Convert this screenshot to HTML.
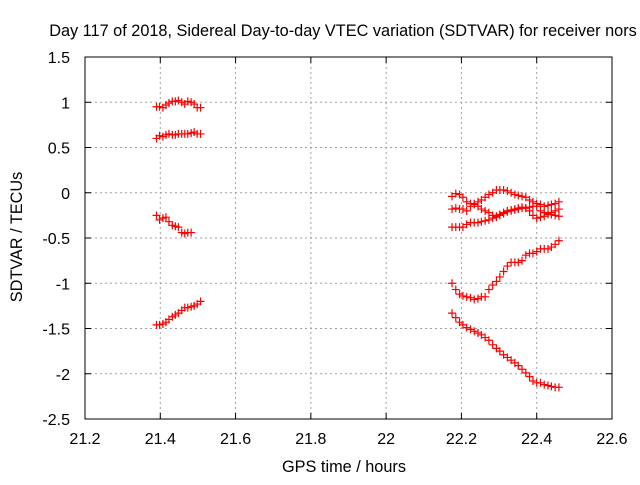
<!DOCTYPE html>
<html><head><meta charset="utf-8"><style>
body{margin:0;background:#fff;width:640px;height:480px;overflow:hidden}
svg text{font-family:"Liberation Sans",sans-serif;font-size:16px;fill:#000}
</style></head><body>
<svg id="c" width="640" height="480" xmlns="http://www.w3.org/2000/svg">
<text x="343" y="36" text-anchor="middle" style="font-size:16.3px">Day 117 of 2018, Sidereal Day-to-day VTEC variation (SDTVAR) for receiver nors</text>
<text x="344" y="472" text-anchor="middle" style="font-size:16.3px">GPS time / hours</text>
<text transform="translate(22,237) rotate(-90)" text-anchor="middle" style="font-size:16.3px">SDTVAR / TECUs</text>
<g id="grid"></g><g id="axes"></g><g id="marks"></g>
</svg>
<script>
const xTicks=[21.2,21.4,21.6,21.8,22,22.2,22.4,22.6];
const xTickLabels=["21.2","21.4","21.6","21.8","22","22.2","22.4","22.6"];
const yTicks=[1.5,1,0.5,0,-0.5,-1,-1.5,-2,-2.5];
const yTickLabels=["1.5","1","0.5","0","-0.5","-1","-1.5","-2","-2.5"];
const leftTimes=[21.39,21.398,21.407,21.415,21.423,21.432,21.44,21.448,21.457,21.465,21.473,21.482,21.49,21.498,21.507];
const seriesA=[0.95,0.95,0.94,0.97,0.99,1.01,1.01,1.02,1.0,0.98,1.01,1.0,0.98,0.94,0.94];
const seriesB=[0.6,0.63,0.62,0.64,0.65,0.64,0.64,0.65,0.65,0.65,0.65,0.66,0.67,0.65,0.65];
const seriesC=[-0.25,-0.3,-0.28,-0.27,-0.32,-0.36,-0.37,-0.38,-0.44,-0.45,-0.44,-0.44];
const seriesD=[-1.46,-1.46,-1.45,-1.43,-1.40,-1.37,-1.35,-1.33,-1.30,-1.27,-1.27,-1.26,-1.25,-1.23,-1.2];
const rightTimes=[22.175,22.185,22.195,22.204,22.214,22.224,22.234,22.244,22.253,22.263,22.273,22.283,22.293,22.302,22.312,22.322,22.332,22.342,22.351,22.361,22.371,22.381,22.39,22.4,22.41,22.42,22.43,22.439,22.449,22.459];
const seriesE1=[-0.04,-0.01,-0.02,-0.05,-0.1,-0.12,-0.13,-0.15,-0.18,-0.2,-0.22,-0.25,-0.26,-0.24,-0.22,-0.2,-0.19,-0.18,-0.17,-0.16,-0.17,-0.2,-0.25,-0.28,-0.27,-0.26,-0.24,-0.22,-0.2,-0.18];
const seriesE2=[-0.18,-0.17,-0.18,-0.18,-0.2,-0.15,-0.12,-0.1,-0.08,-0.05,-0.02,0.0,0.03,0.03,0.03,0.02,0.0,-0.02,-0.03,-0.04,-0.05,-0.08,-0.1,-0.12,-0.13,-0.15,-0.14,-0.13,-0.12,-0.1];
const seriesF=[-0.38,-0.38,-0.38,-0.38,-0.35,-0.33,-0.33,-0.33,-0.32,-0.31,-0.3,-0.28,-0.27,-0.25,-0.23,-0.21,-0.2,-0.19,-0.18,-0.17,-0.17,-0.16,-0.15,-0.15,-0.2,-0.22,-0.23,-0.24,-0.25,-0.26];
const seriesG=[-1.0,-1.07,-1.12,-1.14,-1.15,-1.16,-1.18,-1.17,-1.15,-1.15,-1.07,-1.02,-0.98,-0.93,-0.87,-0.81,-0.77,-0.77,-0.77,-0.75,-0.69,-0.67,-0.67,-0.65,-0.62,-0.62,-0.62,-0.6,-0.57,-0.53];
const seriesH=[-1.33,-1.38,-1.43,-1.46,-1.49,-1.51,-1.53,-1.55,-1.57,-1.6,-1.63,-1.68,-1.72,-1.75,-1.79,-1.82,-1.85,-1.88,-1.91,-1.95,-1.99,-2.03,-2.08,-2.1,-2.1,-2.12,-2.13,-2.14,-2.15,-2.15];

const L=85,R=612,T=57,B=419,X0=21.2,X1=22.6,Y0=-2.5,Y1=1.5;
const sx=v=>L+(v-X0)/(X1-X0)*(R-L);
const sy=v=>B-(v-Y0)/(Y1-Y0)*(B-T);
const NS="http://www.w3.org/2000/svg";
function mk(tag,attrs,parent){const e=document.createElementNS(NS,tag);for(const k in attrs)e.setAttribute(k,attrs[k]);document.getElementById(parent).appendChild(e);return e;}
xTicks.forEach((v,i)=>{const x=sx(v);
 if(i>0&&i<xTicks.length-1){const g=mk('line',{x1:x,x2:x,y1:T,y2:B,stroke:'#a0a0a0','stroke-dasharray':'2,3'},'grid');
 
 }
 mk('line',{x1:x,x2:x,y1:B,y2:B-6,stroke:'#000'},'axes');
 mk('line',{x1:x,x2:x,y1:T,y2:T+6,stroke:'#000'},'axes');
 const t=mk('text',{x:x,y:B+25,'text-anchor':'middle'},'axes');t.textContent=xTickLabels[i];
 
 
});
yTicks.forEach((v,i)=>{const y=sy(v);
 if(i>0&&i<yTicks.length-1){const g=mk('line',{x1:L,x2:R,y1:y,y2:y,stroke:'#a0a0a0','stroke-dasharray':'2,3'},'grid');
 
 }
 mk('line',{x1:L,x2:L+6,y1:y,y2:y,stroke:'#000'},'axes');
 mk('line',{x1:R,x2:R-6,y1:y,y2:y,stroke:'#000'},'axes');
 const t=mk('text',{x:L-15,y:y+6,'text-anchor':'end'},'axes');t.textContent=yTickLabels[i];
 
 
});
const fr=mk('rect',{x:L,y:T,width:R-L,height:B-T,fill:'none',stroke:'#000'},'axes');


const sets=[[leftTimes,seriesA],[leftTimes,seriesB],[leftTimes,seriesC],[leftTimes,seriesD],[rightTimes,seriesE1],[rightTimes,seriesE2],[rightTimes,seriesF],[rightTimes,seriesG],[rightTimes,seriesH]];
sets.forEach(([xs,ys])=>{ys.forEach((v,i)=>{const x=sx(xs[i]),y=sy(v);
 const p=mk('path',{d:`M${x-4},${y}H${x+4}M${x},${y-4}V${y+4}`,stroke:'#ff0000','stroke-width':1.2,fill:'none'},'marks');
 
 
});});
</script>
</body></html>
